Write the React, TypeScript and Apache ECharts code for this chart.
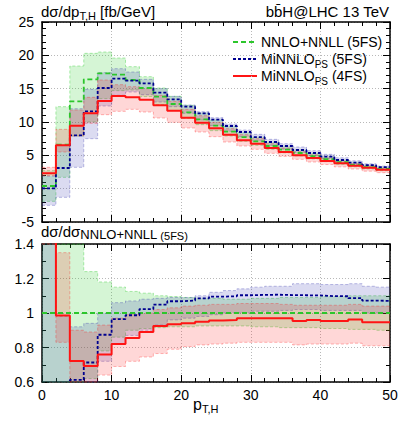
import React, { useEffect, useRef } from "react";
import * as echarts from "echarts";

// p_T,H bin edges [GeV]
const binEdges = [0, 2, 4, 6, 8, 10, 12, 14, 16, 18, 20, 22, 24, 26, 28, 30, 32, 34, 36, 38, 40, 42, 44, 46, 48, 50];

// ---- upper panel: dσ/dp_T,H [fb/GeV] ----
const nnloCentral = [0.4, 6.6, 13.1, 16.4, 17.3, 17.1, 16.3, 15.1, 13.8, 12.7, 11.45, 10.4, 9.47, 8.57, 7.73, 7.09, 6.4, 5.85, 5.35, 4.86, 4.41, 3.97, 3.57, 3.22, 2.93];
const nnloLow = [-1.9, 1.7, 7.9, 10.0, 13.5, 14.7, 14.8, 13.8, 12.6, 11.7, 10.55, 9.6, 8.7, 7.9, 7.1, 6.5, 5.9, 5.38, 4.92, 4.47, 4.06, 3.65, 3.28, 2.96, 2.7];
const nnloHigh = [2.7, 12.3, 18.4, 20.3, 20.5, 19.6, 18.3, 16.8, 15.1, 13.85, 12.5, 11.35, 10.3, 9.35, 8.4, 7.7, 6.97, 6.37, 5.83, 5.3, 4.8, 4.33, 3.89, 3.51, 3.19];

const mi5Central = [0.05, 3.1, 8.0, 11.6, 15.1, 16.5, 16.2, 15.8, 14.4, 13.4, 12.3, 11.3, 10.35, 9.4, 8.5, 7.73, 7.0, 6.4, 5.8, 5.35, 4.8, 4.3, 3.92, 3.52, 3.22];
const mi5Low = [-2.5, -1.3, 3.2, 7.5, 12.4, 14.0, 14.5, 14.1, 13.0, 12.3, 11.3, 10.3, 9.45, 8.6, 7.8, 7.15, 6.5, 5.93, 5.45, 4.95, 4.48, 4.03, 3.62, 3.22, 2.93];
const mi5High = [1.9, 6.5, 12.0, 14.9, 17.4, 18.0, 17.5, 16.4, 15.0, 13.85, 12.55, 11.55, 10.65, 9.7, 8.8, 8.15, 7.4, 6.75, 6.25, 5.7, 5.15, 4.63, 4.18, 3.73, 3.38];

const mi4Central = [2.3, 6.5, 9.45, 11.3, 13.15, 13.9, 13.7, 13.35, 12.5, 11.7, 10.65, 9.9, 9.05, 8.1, 7.25, 6.75, 6.1, 5.5, 5.0, 4.6, 4.15, 3.8, 3.45, 3.12, 2.83];
const mi4Low = [1.95, 5.5, 7.9, 9.8, 11.1, 11.6, 11.9, 11.5, 10.6, 9.95, 9.1, 8.5, 7.8, 7.0, 6.4, 5.9, 5.3, 4.85, 4.4, 4.0, 3.62, 3.27, 2.95, 2.63, 2.4];
const mi4High = [3.2, 8.9, 11.8, 13.7, 16.3, 15.6, 15.3, 15.0, 14.0, 13.1, 11.9, 10.95, 9.95, 9.0, 8.1, 7.5, 6.75, 6.1, 5.55, 5.08, 4.6, 4.15, 3.75, 3.38, 3.05];

// ---- lower panel: ratio to NNLO+NNLL (5FS) ----
const ratioNnlo = [1, 1, 1, 1, 1, 1, 1, 1, 1, 1, 1, 1, 1, 1, 1, 1, 1, 1, 1, 1, 1, 1, 1, 1, 1];
const ratioNnloLow = [-4.75, 0.26, 0.6, 0.62, 0.78, 0.86, 0.9, 0.91, 0.915, 0.92, 0.92, 0.925, 0.925, 0.925, 0.925, 0.92, 0.92, 0.915, 0.915, 0.915, 0.91, 0.91, 0.905, 0.905, 0.9];
const ratioNnloHigh = [6.75, 1.86, 1.41, 1.24, 1.18, 1.15, 1.125, 1.115, 1.1, 1.095, 1.09, 1.085, 1.085, 1.08, 1.08, 1.085, 1.085, 1.09, 1.09, 1.09, 1.095, 1.095, 1.1, 1.1, 1.1];

const ratioMi5 = [0.1, 0.47, 0.612, 0.713, 0.874, 0.965, 0.987, 1.023, 1.048, 1.068, 1.072, 1.085, 1.095, 1.097, 1.103, 1.105, 1.106, 1.104, 1.103, 1.102, 1.098, 1.097, 1.086, 1.072, 1.07];
const ratioMi5Low = [-6, -0.2, 0.25, 0.46, 0.72, 0.82, 0.87, 0.9, 0.93, 0.96, 0.97, 0.98, 0.99, 1.0, 1.0, 1.01, 1.01, 1.015, 1.02, 1.02, 1.015, 1.015, 1.015, 1.0, 1.0];
const ratioMi5High = [4.75, 0.98, 0.92, 0.94, 1.0, 1.06, 1.07, 1.08, 1.085, 1.09, 1.09, 1.1, 1.12, 1.13, 1.14, 1.15, 1.155, 1.155, 1.17, 1.17, 1.165, 1.165, 1.17, 1.155, 1.15];

const ratioMi4 = [5.75, 0.985, 0.722, 0.693, 0.76, 0.82, 0.855, 0.89, 0.925, 0.935, 0.94, 0.95, 0.957, 0.959, 0.969, 0.969, 0.969, 0.969, 0.953, 0.959, 0.953, 0.953, 0.962, 0.946, 0.946];
const ratioMi4Low = [4.9, 0.83, 0.6, 0.57, 0.64, 0.69, 0.72, 0.745, 0.765, 0.79, 0.805, 0.815, 0.82, 0.825, 0.83, 0.83, 0.83, 0.83, 0.815, 0.82, 0.82, 0.82, 0.825, 0.81, 0.81];
const ratioMi4High = [8, 1.35, 0.9, 0.89, 0.93, 0.97, 0.99, 1.0, 1.02, 1.03, 1.04, 1.045, 1.05, 1.05, 1.055, 1.055, 1.055, 1.05, 1.045, 1.045, 1.045, 1.045, 1.05, 1.04, 1.04];

const legendLabels = ["NNLO+NNLL (5FS)", "MiNNLO", "MiNNLO"];
const upperTicks = { min: -5, max: 25, interval: 5 };
const lowerTicks = { min: 0.6, max: 1.4, interval: 0.2 };
const xTicks = { min: 0, max: 50, interval: 10 };

const FONT = '"Liberation Sans", Arial, Helvetica, sans-serif';
const GREEN = "#2cc62c";
const BLUE = "#00008f";
const RED = "#ff1414";

function stepLine(vals: number[], color: string, width: number, dash: any, xi: number, yi: number) {
  const data = vals.map((v, i) => [binEdges[i], v]);
  data.push([binEdges[binEdges.length - 1], vals[vals.length - 1]]);
  return {
    type: "line",
    xAxisIndex: xi,
    yAxisIndex: yi,
    step: "end",
    symbol: "none",
    silent: true,
    clip: true,
    z: 5,
    data,
    lineStyle: { color, width, type: dash },
  };
}

function band(lo: number[], hi: number[], fill: string, stroke: string, xi: number, yi: number) {
  const rows = lo.map((l, i) => [binEdges[i], binEdges[i + 1], l, hi[i]]);
  return {
    type: "custom",
    xAxisIndex: xi,
    yAxisIndex: yi,
    silent: true,
    z: 2,
    data: rows,
    encode: { x: [0, 1], y: [2, 3] },
    renderItem: (params: any, api: any) => {
      if (params.dataIndex !== 0) return null;
      const cs = params.coordSys;
      const cy = (v: number) => Math.max(cs.y, Math.min(cs.y + cs.height, api.coord([0, v])[1]));
      const cx = (v: number) => api.coord([v, 0])[0];
      const upper: number[][] = [];
      const lower: number[][] = [];
      rows.forEach((r) => {
        upper.push([cx(r[0]), cy(r[3])], [cx(r[1]), cy(r[3])]);
        lower.push([cx(r[0]), cy(r[2])], [cx(r[1]), cy(r[2])]);
      });
      const poly = upper.concat(lower.slice().reverse());
      return {
        type: "group",
        children: [
          { type: "polygon", shape: { points: poly }, style: { fill, stroke: null } },
          { type: "polyline", shape: { points: upper }, style: { fill: null, stroke, lineWidth: 1, lineDash: [3, 2] } },
          { type: "polyline", shape: { points: lower }, style: { fill: null, stroke, lineWidth: 1, lineDash: [3, 2] } },
        ],
      };
    },
  };
}

function axis(kind: "x" | "y", grid: number, position: string, range: any, labels: boolean, split: boolean, minorSplit: number) {
  return {
    type: "value",
    gridIndex: grid,
    position,
    min: range.min,
    max: range.max,
    interval: range.interval,
    axisLine: { show: true, onZero: false, lineStyle: { color: "#000", width: 1.5 } },
    axisTick: { show: true, inside: true, length: 7, lineStyle: { color: "#000", width: 1 } },
    minorTick: { show: true, splitNumber: minorSplit, length: 4, lineStyle: { color: "#000", width: 1 } },
    splitLine: { show: split, lineStyle: { color: "#b8b8b8", width: 1, type: [1, 2] } },
    axisLabel: {
      show: labels,
      color: "#000",
      fontSize: 14,
      fontFamily: FONT,
      margin: kind === "x" ? 6 : 8,
    },
  };
}

export default function App() {
  const ref = useRef<HTMLDivElement>(null);
  useEffect(() => {
    if (!ref.current) return;
    const chart = echarts.init(ref.current, null, { renderer: "svg" });
    const txt = (x: number, y: number, text: string, rich: any, align = "left") => ({
      type: "text",
      x,
      y,
      silent: true,
      style: { text, rich, align, verticalAlign: "middle", fontFamily: FONT, fontSize: 14, fill: "#000" },
    });
    const main = { fontSize: 14, fontFamily: FONT, lineHeight: 20, verticalAlign: "middle", color: "#000" };
    const main15 = { ...main, fontSize: 15 };
    const main16 = { ...main, fontSize: 16 };
    const sub = { fontSize: 10, fontFamily: FONT, lineHeight: 12, verticalAlign: "bottom", color: "#000" };
    const sub11 = { fontSize: 11, fontFamily: FONT, lineHeight: 13, verticalAlign: "bottom", color: "#000" };
    const sub13 = { fontSize: 13, fontFamily: FONT, lineHeight: 15, verticalAlign: "bottom", color: "#000" };

    const legY = [42, 59, 76];
    const option: any = {
      animation: false,
      grid: [
        { left: 42, top: 22, width: 348, height: 200 },
        { left: 42, top: 244, width: 348, height: 138 },
      ],
      xAxis: [
        axis("x", 0, "bottom", xTicks, false, true, 5),
        axis("x", 0, "top", xTicks, false, false, 5),
        axis("x", 1, "bottom", xTicks, true, true, 5),
        axis("x", 1, "top", xTicks, false, false, 5),
      ],
      yAxis: [
        axis("y", 0, "left", upperTicks, true, true, 5),
        axis("y", 0, "right", upperTicks, false, false, 5),
        axis("y", 1, "left", lowerTicks, true, true, 2),
        axis("y", 1, "right", lowerTicks, false, false, 2),
      ],
      series: [
        band(nnloLow, nnloHigh, "rgba(30,200,30,0.19)", "rgba(30,200,30,0.35)", 0, 0),
        band(mi5Low, mi5High, "rgba(40,40,170,0.17)", "rgba(40,40,170,0.3)", 0, 0),
        band(mi4Low, mi4High, "rgba(255,20,20,0.17)", "rgba(255,20,20,0.3)", 0, 0),
        stepLine(nnloCentral, GREEN, 1.8, [5, 3], 0, 0),
        stepLine(mi5Central, BLUE, 1.8, [3, 2], 0, 0),
        stepLine(mi4Central, RED, 2, "solid", 0, 0),
        band(ratioNnloLow, ratioNnloHigh, "rgba(30,200,30,0.19)", "rgba(30,200,30,0.35)", 2, 2),
        band(ratioMi5Low, ratioMi5High, "rgba(40,40,170,0.17)", "rgba(40,40,170,0.3)", 2, 2),
        band(ratioMi4Low, ratioMi4High, "rgba(255,20,20,0.17)", "rgba(255,20,20,0.3)", 2, 2),
        stepLine(ratioNnlo, GREEN, 1.8, [5, 3], 2, 2),
        stepLine(ratioMi5, BLUE, 1.8, [3, 2], 2, 2),
        stepLine(ratioMi4, RED, 2, "solid", 2, 2),
      ],
      graphic: [
        txt(41, 11, "{a|dσ/dp}{s|T,H}{a| [fb/GeV]}", { a: main15, s: sub11 }),
        txt(389, 11, "{a|bb\u0304H@LHC 13 TeV}", { a: main15 }, "right"),
        txt(41, 231, "{a|dσ/dσ}{b|NNLO+NNLL}{s| (5FS)}", { a: main15, b: sub13, s: { ...sub11, lineHeight: 14 } }),
        txt(193, 404, "{a|p}{s|T,H}", { a: main16, s: sub11 }),
        { type: "line", silent: true, shape: { x1: 233, y1: legY[0], x2: 257, y2: legY[0] }, style: { stroke: GREEN, lineWidth: 1.8, lineDash: [5, 3] } },
        { type: "line", silent: true, shape: { x1: 233, y1: legY[1], x2: 257, y2: legY[1] }, style: { stroke: BLUE, lineWidth: 1.8, lineDash: [3, 2] } },
        { type: "line", silent: true, shape: { x1: 233, y1: legY[2], x2: 257, y2: legY[2] }, style: { stroke: RED, lineWidth: 2 } },
        txt(261, legY[0], "{a|" + legendLabels[0] + "}", { a: main }),
        txt(261, legY[1], "{a|" + legendLabels[1] + "}{s|PS}{a| (5FS)}", { a: main, s: sub }),
        txt(261, legY[2], "{a|" + legendLabels[2] + "}{s|PS}{a| (4FS)}", { a: main, s: sub }),
      ],
    };
    chart.setOption(option);
    return () => chart.dispose();
  }, []);
  return <div ref={ref} style={{ position: "absolute", left: 0, top: 0, width: 407, height: 429 }} />;
}
